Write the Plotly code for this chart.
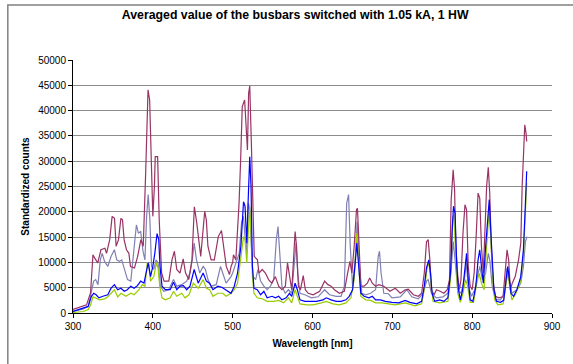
import plotly.graph_objects as go

# ---- data (wavelength [nm], standardized counts) ----
maroon_x = [300, 317, 322, 325, 327, 331, 335, 340, 342, 346, 349, 352, 354, 357, 360, 362, 364, 367, 370, 372,
            377, 381, 385, 388, 391, 394, 396, 398, 400, 402, 403, 406, 408, 411, 414, 420, 424, 427, 430, 434,
            438, 441, 445, 449, 452, 455, 458, 460, 465, 467, 469, 473, 477, 482, 486, 489, 492, 496,
            498, 500, 501, 504, 508, 510, 512, 515, 517, 518.5, 520, 521.4, 523.4, 525, 527, 531, 533, 537, 541,
            545, 549, 553.5, 557.6, 561.7, 566, 568.7, 571, 574, 576, 578.2, 580, 582.3, 585, 588.4, 591, 594.6,
            600.8, 609, 615.2, 619.3, 623.4, 627.5, 633.7, 639.9, 644, 646.9, 649.3, 652.2, 655.1, 656.3, 658.4,
            660.5, 664.6, 668.7, 671.6, 674.9, 679, 683.1, 689.3, 695.4, 697, 703.7, 709.9, 716.1, 720, 726.4,
            732.6, 736.7, 740, 742.8, 744.9, 747, 749, 752.3, 755.2, 760, 764.6, 768.8, 771.6, 773.7, 776.2, 778,
            779.5, 782, 784, 786, 788.5, 791, 793, 795.1, 797.5, 800, 802.5, 805, 807.4, 809.5, 811.6, 814, 816.1,
            818.1, 820.2, 822, 823.9, 826.4, 829.3, 833.4, 838.7, 841.6, 843.7, 845.7, 847.8, 850.2, 853.9, 858.1,
            860.9, 862.6, 864.2, 865.9, 867.5, 868.3]
maroon_y = [700, 1600, 4000, 11500, 10900, 9900, 12500, 12800, 11800, 14500, 19100, 18700, 13200, 14500, 18700,
            18400, 14500, 12500, 11800, 9200, 8900, 11200, 14500, 13200, 27600, 44100, 42100, 30300, 19100, 25000,
            30900, 30900, 18400, 7900, 6300, 6300, 10500, 12200, 8600, 7900, 10700, 7900, 6600, 10500, 21000,
            17800, 13200, 11200, 20100, 18400, 13200, 10500, 10500, 15100, 16300, 13200, 9200, 7600,
            9200, 10000, 11500, 10500, 21700, 30300, 40800, 42100, 36800, 32200, 43400, 44900, 33600, 20400,
            11200, 10500, 7900, 8600, 7900, 6600, 5900, 7200, 5300, 4600, 5300, 9900, 7900, 4600, 9900, 16100,
            13200, 5300, 4600, 7400, 4600, 3900, 3600, 4300, 6300, 5600, 5300, 4600, 3900, 4300, 7900, 10200,
            7900, 13200, 20400, 20700, 13200, 5300, 5300, 5900, 6900, 5900, 5300, 5600, 5300, 4600, 4300, 4900,
            3900, 4600, 4700, 3600, 3300, 3900, 7900, 14100, 14500, 10500, 4600, 3600, 4600, 4300, 3900, 4600,
            6600, 22400, 28300, 24300, 13200, 7200, 4600, 6600, 15800, 21400, 20400, 9200, 5300, 4600, 7900,
            15100, 23700, 22700, 13200, 7900, 17100, 25000, 28800, 23700, 13200, 5900, 3300, 3000, 3200, 9200,
            12500, 10500, 4600, 5900, 7200, 10500, 13800, 25000, 32900, 37200, 35500, 33900]

lav_x = [300, 313, 319, 323, 325.9, 328.4, 331.3, 334.2, 336.6, 339.5, 343.6, 347.7, 351.9, 354.8, 358, 361,
         364.2, 368.3, 372.4, 376.5, 379.4, 381.9, 384.8, 387.7, 390.1, 392.2, 394.2, 396.3, 398.4, 401.2,
         404.1, 406.6, 409.5, 413.6, 419.8, 425.9, 430, 436.2, 442.4, 446.5, 449.4, 451.8, 454.7, 458.8, 463,
         465.9, 469.1, 473.2, 479.4, 484.8, 487.7, 491.8, 497.9, 500, 504.1, 508.2, 511.1, 513.6, 515.5, 517.7,
         519.7, 521.4, 523.4, 525.5, 528.8, 531.7, 535, 539.1, 543.2, 547.3, 551.4, 554.7, 556.8, 558.8, 561.7,
         565.8, 569.9, 574, 577.3, 579.4, 581.5, 584.3, 590.5, 598.7, 607, 615.2, 621.4, 629.6, 635.8, 639.9,
         642.8, 645.2, 647.3, 650.2, 653.5, 656, 658.4, 661.7, 666.6, 672.8, 679, 682.3, 683.9, 685.9, 689.3,
         695, 699.6, 709.9, 718.1, 724.3, 732.6, 738.7, 742.8, 744.9, 749, 755.2, 763.4, 769.6, 773.7, 776.2,
         778.6, 781.9, 786, 790.2, 792.6, 795.1, 799.2, 803.3, 806.6, 809.5, 812.8, 816.9, 820.2, 822, 825.1,
         829.3, 835.4, 840.4, 843.7, 846, 849.8, 856, 860.9, 864.2, 866.7, 868.7]
lav_y = [300, 800, 1300, 3900, 6300, 6600, 5600, 10500, 11800, 10200, 9200, 11200, 12500, 10500, 10200, 10500,
         8600, 6600, 6300, 13200, 17400, 15800, 16100, 12200, 10500, 19100, 23400, 18400, 9200, 8600, 10500,
         9900, 5300, 4300, 4600, 6600, 5300, 5600, 6300, 7900, 10500, 13800, 10500, 7900, 9200, 8600, 6600,
         5300, 5600, 9200, 7900, 5900, 7200, 7900, 9900, 11800, 17800, 19100, 15100, 11800, 21700, 20400,
         13200, 7200, 6600, 8600, 6300, 5300, 4600, 5300, 6600, 14500, 17100, 11800, 5300, 3900, 4600, 3900,
         9200, 13800, 7900, 3900, 3600, 3000, 3200, 4600, 3600, 3300, 3300, 5300, 21700, 23400, 13200, 5300,
         10500, 18100, 10500, 3900, 3600, 3900, 4600, 11200, 12200, 7900, 3900, 3800, 3000, 3200, 4600, 3200,
         2800, 3900, 6300, 6600, 3900, 3000, 3200, 3900, 8600, 14100, 10500, 4600, 3900, 6600, 9900, 5300, 3300,
         4600, 7200, 9200, 6600, 7900, 11800, 10500, 5300, 2600, 2600, 3900, 8900, 7200, 3900, 4600, 5900,
         9200, 14100, 15100]

blue_x = [300, 313, 319, 323, 326, 329, 332.5, 337.4, 343.6, 347.7, 351.9, 356, 360, 364.2, 368, 372.4, 376.5,
          380.7, 384.8, 388.9, 391.8, 394.2, 397.1, 400, 402.5, 405.3, 407.4, 409, 411.5, 415.6, 421.8, 425.9,
          430, 434.2, 438.3, 442.4, 446.5, 451.8, 456.8, 463, 467.1, 471, 475.3, 481.5, 486.4, 491.8, 497.9,
          502, 506.1, 510.3, 513.6, 515.5, 517.7, 519.3, 521.4, 523, 524.7, 526.7, 530.8, 535, 539.1, 543.2,
          549.4, 553.5, 557.6, 561.7, 567, 571.2, 574, 578.2, 581, 584.3, 590.5, 596.7, 604.9, 613.1, 617.3,
          623.4, 629.6, 635.8, 641.9, 646, 650.2, 653.5, 655.5, 657.6, 660.5, 664.6, 670.7, 674.9, 679, 685.1,
          691.3, 699.6, 708, 716.1, 722, 730.5, 736.7, 740, 742.8, 745.7, 747.8, 749.8, 753.1, 759.3, 764.6,
          769.6, 772.9, 775, 776.6, 778.6, 780.7, 782.8, 785.2, 788.1, 791, 793, 795.1, 797.5, 800.9, 804.6,
          807.4, 809.5, 811.6, 814, 816.9, 819.8, 821.4, 823, 825.1, 827.2, 830.5, 835.4, 839.5, 842.8, 844.5,
          846.6, 848.6, 851.9, 856, 860.9, 864.2, 866.7, 868.3]
blue_y = [300, 1000, 1300, 3300, 3900, 3600, 3000, 3300, 3600, 4900, 5600, 4600, 4900, 4300, 4600, 5300, 4900,
          5400, 6300, 5900, 7900, 9900, 7200, 9200, 11800, 15700, 14500, 9200, 5300, 4600, 4600, 6100, 4600,
          5300, 5400, 4600, 5300, 8600, 5900, 7900, 6300, 5900, 4600, 5300, 5100, 4600, 3900, 5300, 7900,
          13200, 22000, 21100, 13800, 21700, 30900, 25000, 9200, 4900, 4600, 3600, 4300, 3000, 3300, 3000,
          3300, 2600, 3000, 3900, 3300, 5900, 4600, 2600, 2300, 2300, 2300, 2600, 3000, 2600, 2300, 2300, 2600,
          3300, 4600, 9900, 13800, 9900, 3900, 3300, 3000, 3300, 2600, 2600, 2300, 2100, 2000, 2500, 2100,
          1800, 2300, 5300, 8900, 10500, 7900, 3900, 2300, 2600, 2300, 3000, 7900, 16400, 21100, 19700, 9200,
          4600, 2600, 4600, 8600, 11800, 6600, 2600, 2300, 5300, 10500, 12500, 9200, 5900, 13200, 20400, 22400,
          17100, 9200, 4600, 2300, 2100, 2500, 7200, 9200, 6600, 3900, 3300, 4600, 7200, 12500, 21700, 28000]

green_x = [300, 313, 319, 322, 325, 328.4, 333.3, 339.5, 343.6, 347.7, 351.9, 356, 360.1, 366.3, 372.4, 376.5,
           382.7, 386.8, 390.1, 393, 395, 397.1, 401.2, 404.5, 406.6, 408.6, 411.5, 415.6, 421.8, 425.9, 430,
           436.2, 440.3, 445.3, 450.6, 456.8, 463, 467.1, 471.2, 475.3, 481.5, 487.6, 491.8, 497.9, 502, 506.1,
           510.3, 513.6, 515.5, 517.7, 519.7, 521.4, 523, 524.7, 526.7, 530.8, 537, 543.2, 551.4, 557.6, 563.8,
           569.9, 574, 578.2, 581, 584.3, 592.6, 600.8, 611.1, 617.3, 625.5, 633.7, 641.9, 648.1, 652.2, 655.5,
           657.6, 660.5, 666.6, 672.8, 679, 687.2, 695.4, 703.7, 716.1, 728.4, 736.7, 740.8, 743.7, 745.7, 748,
           751, 759.3, 769.6, 772.9, 775.4, 777, 779, 781.9, 785.2, 788.5, 791.8, 794.3, 797.6, 801.7, 805.8,
           808.7, 811.6, 814.9, 818.1, 821, 823, 825.5, 828.2, 832.1, 838.7, 841.9, 844.5, 847, 849.8, 853.9,
           860.1, 864.2, 866.7, 868.3]
green_y = [100, 300, 700, 1600, 3200, 3000, 2600, 2800, 3200, 3900, 4600, 3200, 3900, 3300, 3900, 3600, 4600,
           5600, 5300, 9900, 9700, 6300, 7200, 9900, 8900, 5300, 3000, 2600, 3000, 4300, 3300, 3900, 3000, 3600,
           5900, 4900, 6600, 4900, 4600, 3300, 3900, 3900, 3300, 3900, 4600, 5900, 10500, 15100, 14500, 9900,
           16400, 21000, 16400, 7200, 3900, 3000, 2800, 2300, 2300, 2500, 2000, 3000, 2000, 4600, 3300, 1800,
           1600, 1600, 2000, 2300, 1800, 1600, 2000, 3000, 6600, 15800, 10500, 3300, 2600, 2500, 2000, 2000,
           1800, 1600, 2000, 1400, 1800, 5300, 9200, 9900, 6600, 2300, 2000, 2300, 6600, 18400, 19400, 11800,
           3900, 2100, 3900, 6600, 5300, 2100, 2100, 5900, 7900, 5900, 4600, 13200, 19700, 15800, 7200, 2600,
           1600, 1800, 5300, 7900, 5300, 2600, 3600, 5900, 11200, 21000, 25700]

title_text = "Averaged value of the busbars switched with 1.05 kA, 1 HW"
x_title = "Wavelength [nm]"
y_title = "Standardized counts"

FONT = "Liberation Sans, Arial, sans-serif"

fig = go.Figure()
series = [
    (lav_x, lav_y, "#8080B4"),
    (maroon_x, maroon_y, "#993366"),
    (green_x, green_y, "#99CC00"),
    (blue_x, blue_y, "#0000FF"),
]
for xs, ys, col in series:
    fig.add_trace(go.Scatter(x=xs, y=ys, mode="lines",
                             line=dict(color=col, width=1.2), showlegend=False,
                             hoverinfo="skip"))

L, R, T, B = 73, 15, 60, 51
W, H = 573, 364
pw, ph = W - L - R, H - T - B

fig.update_layout(
    width=W, height=H,
    margin=dict(l=L, r=R, t=T, b=B, pad=0),
    paper_bgcolor="white", plot_bgcolor="white",
    font=dict(family=FONT, size=10, color="black"),
    title=dict(text="<b>" + title_text + "</b>", x=(298 - L) / pw, xref="paper", xanchor="center",
               y=1 - 15 / H, yanchor="middle", font=dict(size=12.3, family=FONT)),
    xaxis=dict(range=[300, 900], dtick=100, tick0=300, showgrid=False,
               showline=True, linecolor="black", linewidth=1,
               ticks="outside", ticklen=4, tickcolor="black",
               tickfont=dict(size=10, family=FONT),
               title=dict(text="<b>" + x_title + "</b>", font=dict(size=10, family=FONT), standoff=8),
               zeroline=False),
    yaxis=dict(range=[0, 50000], dtick=5000, tickformat="d", showgrid=True,
               gridcolor="#8c8c8c", gridwidth=1,
               showline=True, linecolor="black", linewidth=1,
               ticks="outside", ticklen=4, tickcolor="black",
               tickfont=dict(size=10, family=FONT),
               title=dict(text="<b>" + y_title + "</b>", font=dict(size=10, family=FONT), standoff=6),
               zeroline=False),
)

# outer chart frame (extends beyond right/bottom edge of view)
fig.add_shape(type="rect", xref="paper", yref="paper",
              x0=(7 - L) / pw, x1=1.2, y0=-0.5, y1=1 + (T - 5) / ph,
              line=dict(color="#808080", width=1.5), fillcolor="rgba(0,0,0,0)", layer="below")

fig.write_html("out.html")
